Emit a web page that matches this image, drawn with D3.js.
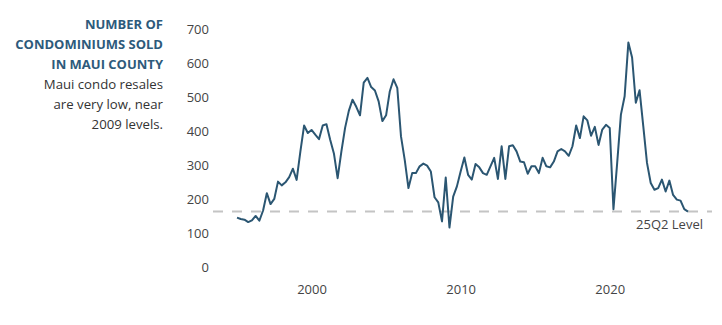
<!DOCTYPE html>
<html>
<head>
<meta charset="utf-8">
<script src="https://cdn.jsdelivr.net/npm/d3@7"></script>
<style>
  html, body { margin: 0; padding: 0; background: #fff; }
  svg { display: block; font-family: "Open Sans", sans-serif; }
</style>
</head>
<body>
<svg id="chart" width="722" height="325"></svg>
<script>
// Quarterly condominium resales in Maui County, 1995 Q1 – 2025 Q2
const startYear = 1995;
const sales = [
  146, 142, 140, 133,   // 1995
  138, 151, 137, 167,   // 1996
  218, 186, 201, 252,   // 1997
  241, 250, 265, 290,   // 1998
  257, 340, 417, 395,   // 1999
  404, 390, 377, 417,   // 2000
  421, 375, 335, 262,   // 2001
  340, 410, 460, 493,   // 2002
  472, 447, 543, 557,   // 2003
  530, 520, 488, 430,   // 2004
  447, 518, 553, 528,   // 2005
  385, 316, 233, 277,   // 2006
  277, 297, 305, 299,   // 2007
  282, 206, 191, 135,   // 2008
  264, 117, 208, 238,   // 2009
  282, 323, 272, 258,   // 2010
  304, 294, 277, 272,   // 2011
  297, 322, 260, 356,   // 2012
  260, 356, 359, 341,   // 2013
  311, 309, 275, 297,   // 2014
  297, 277, 322, 297,   // 2015
  294, 311, 341, 348,   // 2016
  341, 328, 356, 417,   // 2017
  380, 444, 432, 387,   // 2018
  413, 360, 405, 419,   // 2019
  410, 171, 307, 449,   // 2020
  503, 661, 617, 484,   // 2021
  521, 415, 307, 248,   // 2022
  228, 233, 258, 223,   // 2023
  255, 213, 199, 196,   // 2024
  171, 164              // 2025
];
const yTicks = [0, 100, 200, 300, 400, 500, 600, 700];
const xTicks = [2000, 2010, 2020];
const referenceLabel = "25Q2 Level";
const titleLines = ["NUMBER OF", "CONDOMINIUMS SOLD", "IN MAUI COUNTY"];
const noteLines = ["Maui condo resales", "are very low, near", "2009 levels."];

const data = sales.map((v, i) => ({ t: startYear + i / 4, v }));
const latest = sales[sales.length - 1];

const svg = d3.select("#chart");

const x = d3.scaleLinear()
  .domain([startYear, startYear + (sales.length - 1) / 4])
  .range([237, 688]);
const y = d3.scaleLinear().domain([0, 700]).range([267.3, 29.3]);

// Y axis labels only
const yAxis = svg.append("g")
  .attr("transform", "translate(212,0)")
  .call(d3.axisLeft(y).tickValues(yTicks).tickSize(0).tickPadding(3));
yAxis.select(".domain").remove();
yAxis.selectAll("text")
  .attr("font-family", "'Open Sans', sans-serif")
  .attr("font-size", 13)
  .attr("fill", "#444");

// X axis labels only
const xAxis = svg.append("g")
  .attr("transform", "translate(0,285)")
  .call(d3.axisBottom(x).tickValues(xTicks).tickFormat(d3.format("d")).tickSize(0).tickPadding(0));
xAxis.select(".domain").remove();
xAxis.selectAll("text")
  .attr("font-family", "'Open Sans', sans-serif")
  .attr("font-size", 13)
  .attr("fill", "#444");

// Dashed reference at the latest quarter's level
svg.append("line")
  .attr("x1", 213).attr("x2", 712)
  .attr("y1", y(latest)).attr("y2", y(latest))
  .attr("stroke", "#c4c4c4")
  .attr("stroke-width", 2)
  .attr("stroke-dasharray", "10,9");

svg.append("text")
  .attr("x", 703).attr("y", y(latest) + 17)
  .attr("text-anchor", "end")
  .attr("font-size", 13)
  .attr("fill", "#444")
  .text(referenceLabel);

// Sales line
svg.append("path")
  .datum(data)
  .attr("fill", "none")
  .attr("stroke", "#2b5672")
  .attr("stroke-width", 2)
  .attr("stroke-linejoin", "round")
  .attr("d", d3.line().x(d => x(d.t)).y(d => y(d.v)));

// Title block
const title = svg.append("text")
  .attr("text-anchor", "end")
  .attr("font-weight", 700)
  .attr("font-size", 13)
  .attr("fill", "#2d5a7b");
titleLines.forEach((t, i) => {
  title.append("tspan").attr("x", 163).attr("y", 29 + i * 20).text(t);
});

const note = svg.append("text")
  .attr("text-anchor", "end")
  .attr("font-size", 13.2)
  .attr("fill", "#333");
noteLines.forEach((t, i) => {
  note.append("tspan").attr("x", 163).attr("y", 89 + i * 20).text(t);
});
</script>
</body>
</html>
